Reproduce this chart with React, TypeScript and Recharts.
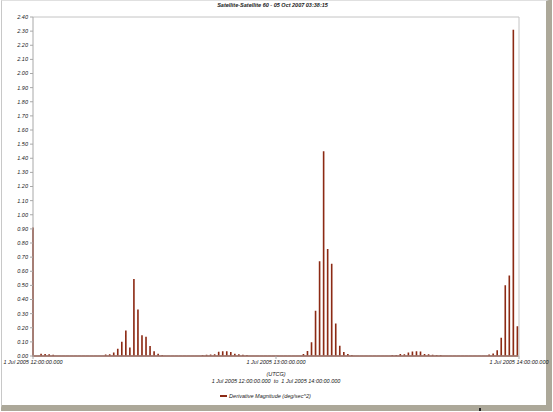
import React from "react";
import { LineChart, Line, XAxis, YAxis, ReferenceLine, Legend, Label } from "recharts";

// Chart title and axis texts
const TITLE = "Satellite-Satellite 60 - 05 Oct 2007 03:38:15";
const SERIES_NAME = "Derivative Magnitude (deg/sec^2)";
const X_UNIT = "(UTCG)";
const X_RANGE = "1 Jul 2005 12:00:00.000  to  1 Jul 2005 14:00:00.000";

// Time axis (seconds after 1 Jul 2005 12:00:00 UTCG)
const X_TICKS = [0, 3600, 7200];
const X_TICK_LABELS = ["1 Jul 2005 12:00:00.000", "1 Jul 2005 13:00:00.000", "1 Jul 2005 14:00:00.000"];
const SAMPLE_STEP = 59.8; // seconds between samples

// Magnitude axis
const Y_TICKS = [
  0, 0.1, 0.2, 0.3, 0.4, 0.5, 0.6, 0.7, 0.8, 0.9, 1.0, 1.1, 1.2,
  1.3, 1.4, 1.5, 1.6, 1.7, 1.8, 1.9, 2.0, 2.1, 2.2, 2.3, 2.4,
];

// Derivative magnitude at each sample (deg/sec^2)
const MAGNITUDES = [
  0.91, 0.003, 0.016, 0.014, 0.012, 0.008, 0.005, 0.003, 0.001, 0.001,
  0.001, 0.001, 0.001, 0.001, 0.001, 0.001, 0.002, 0.005, 0.01, 0.012,
  0.024, 0.052, 0.1, 0.18, 0.06, 0.545, 0.33, 0.147, 0.137, 0.071,
  0.033, 0.016, 0.007, 0.004, 0.001, 0.001, 0.001, 0.001, 0.001, 0.003,
  0.004, 0.005, 0.006, 0.008, 0.01, 0.012, 0.03, 0.033, 0.033, 0.028,
  0.016, 0.012, 0.009, 0.007, 0.005, 0.003, 0.001, 0.001, 0.001, 0.001,
  0.001, 0.001, 0.001, 0.001, 0.001, 0.002, 0.005, 0.014, 0.035, 0.097,
  0.32, 0.67, 1.45, 0.757, 0.653, 0.23, 0.073, 0.028, 0.014, 0.007,
  0.004, 0.001, 0.001, 0.001, 0.001, 0.001, 0.003, 0.004, 0.004, 0.006,
  0.006, 0.014, 0.012, 0.024, 0.031, 0.033, 0.031, 0.014, 0.012, 0.009,
  0.007, 0.006, 0.005, 0.004, 0.001, 0.001, 0.001, 0.001, 0.001, 0.001,
  0.001, 0.001, 0.002, 0.01, 0.017, 0.04, 0.13, 0.5, 0.57, 2.31,
  0.21,
];

const SERIES_COLOR = "#8c2a14";
const FONT = "Arial, 'Liberation Sans', sans-serif";
const TEXT_COLOR = "#222";

// Each sample is an impulse: the trace rises from zero to the value and back.
const HALF_WIDTH = 0.5;
const points: { t: number; v: number }[] = [];
MAGNITUDES.forEach((v, i) => {
  const t = i * SAMPLE_STEP;
  if (i > 0) points.push({ t: t - HALF_WIDTH, v: 0 });
  points.push({ t, v });
  if (i < MAGNITUDES.length - 1) points.push({ t: t + HALF_WIDTH, v: 0 });
});

const tickText = { fontSize: 5.5, fontStyle: "italic", fill: TEXT_COLOR, fontFamily: FONT };

const AxisCaption = (props: any) => {
  const vb = props.viewBox || {};
  const cx = vb.x + vb.width / 2;
  const top = vb.y;
  return (
    <g style={{ fontFamily: FONT, fontStyle: "italic", fontSize: 5.5 }} fill={TEXT_COLOR}>
      <text x={cx} y={top + 20} textAnchor="middle">{X_UNIT}</text>
      <text x={cx} y={top + 27} textAnchor="middle" style={{ whiteSpace: "pre" }}>{X_RANGE}</text>
    </g>
  );
};

const LegendContent = () => (
  <div
    style={{
      height: 10,
      display: "flex",
      alignItems: "center",
      justifyContent: "center",
      fontFamily: FONT,
      fontStyle: "italic",
      fontSize: 5.5,
      color: TEXT_COLOR,
      paddingLeft: 12,
    }}
  >
    <span style={{ display: "inline-block", width: 7, height: 1.5, background: SERIES_COLOR, marginRight: 2 }} />
    <span>{SERIES_NAME}</span>
  </div>
);

export default function App() {
  return (
    <div style={{ position: "absolute", left: 0, top: 0, width: 553, height: 412, background: "#fff" }}>
      {/* window frame */}
      <div
        style={{
          position: "absolute",
          left: 1,
          top: 0,
          width: 548,
          height: 408,
          borderLeft: "1px solid #c8c8c8",
          borderTop: "1px solid #e0e0e0",
          borderRight: "3px solid #aca899",
          borderBottom: "3px solid #aca899",
          boxSizing: "border-box",
          pointerEvents: "none",
        }}
      />
      <div style={{ position: "absolute", left: 1, top: 408, width: 551, height: 3, background: "#aca899" }} />
      <div style={{ position: "absolute", left: 549, top: 0, width: 3, height: 411, background: "#aca899" }} />
      <div style={{ position: "absolute", left: 479, top: 408, width: 1.5, height: 3, background: "#222" }} />

      <div
        style={{
          position: "absolute",
          left: 0,
          top: 2,
          width: 545,
          textAlign: "center",
          fontFamily: FONT,
          fontWeight: "bold",
          fontStyle: "italic",
          fontSize: 5.5,
          color: TEXT_COLOR,
          lineHeight: "7px",
        }}
      >
        {TITLE}
      </div>

      <div style={{ position: "absolute", left: 0, top: 0 }}>
        <LineChart width={553} height={412} data={points} margin={{ top: 17, right: 34, left: 0, bottom: 11 }}>
          <XAxis
            dataKey="t"
            type="number"
            domain={[0, 7200]}
            ticks={X_TICKS}
            interval={0}
            tickFormatter={(v: number) => X_TICK_LABELS[X_TICKS.indexOf(v)]}
            tick={tickText}
            tickSize={3}
            tickMargin={1}
            stroke="#a8a8a8"
            height={35}
          >
            <Label content={<AxisCaption />} />
          </XAxis>
          <YAxis
            type="number"
            domain={[0, 2.4]}
            ticks={Y_TICKS}
            interval={0}
            tickFormatter={(v: number) => v.toFixed(2)}
            tick={tickText}
            tickSize={3}
            tickMargin={2}
            stroke="#a8a8a8"
            width={33}
          />
          <ReferenceLine y={2.4} stroke="#c4c4c4" strokeWidth={1} />
          <ReferenceLine x={7200} stroke="#c4c4c4" strokeWidth={1} />
          <Legend verticalAlign="bottom" align="center" content={<LegendContent />} />
          <Line
            type="linear"
            dataKey="v"
            name={SERIES_NAME}
            stroke={SERIES_COLOR}
            strokeWidth={1.6}
            dot={false}
            isAnimationActive={false}
          />
        </LineChart>
      </div>
    </div>
  );
}
